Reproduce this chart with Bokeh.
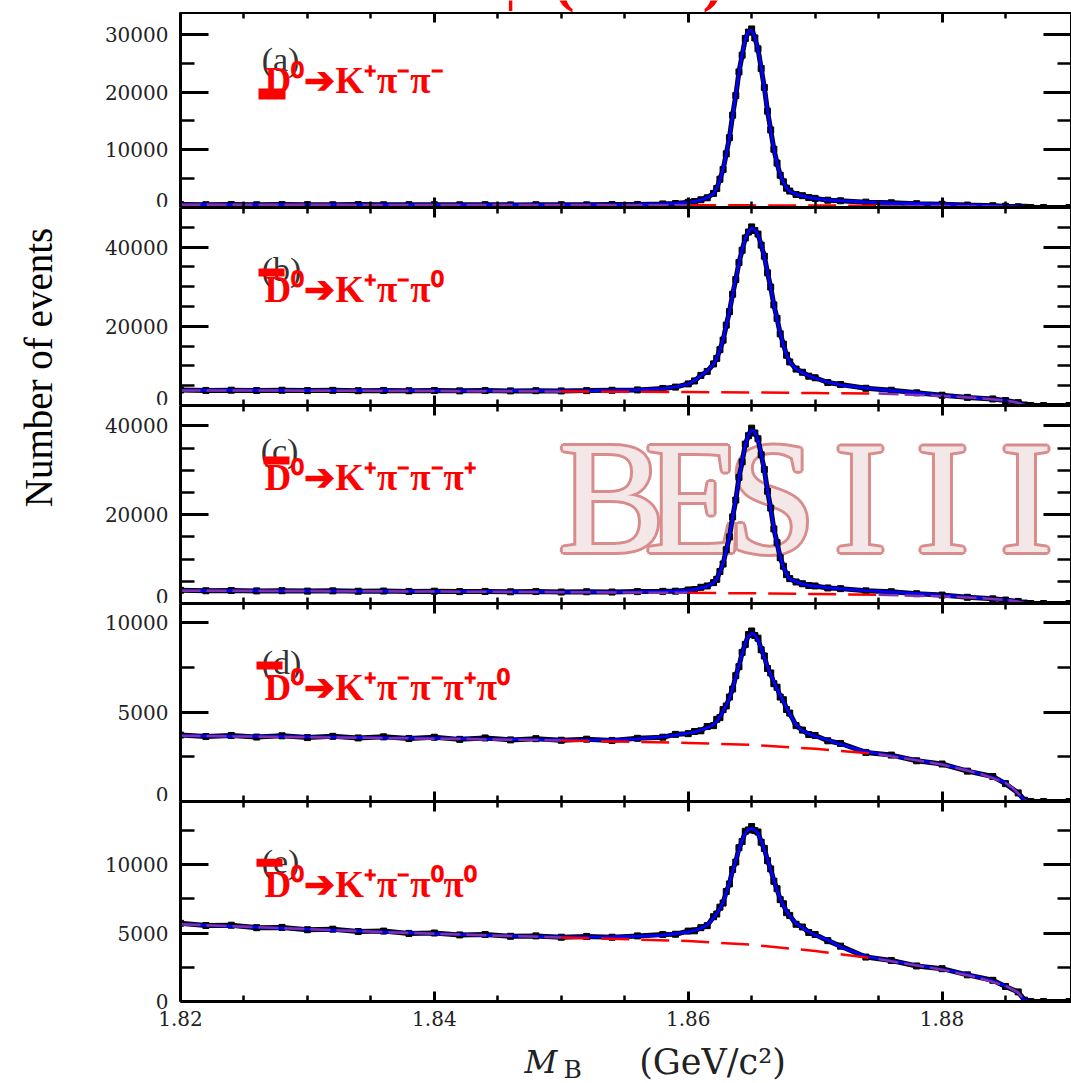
import math
import numpy as np
from bokeh.plotting import figure
from bokeh.layouts import row, column
from bokeh.models import (Range1d, LinearAxis, FixedTicker, NumeralTickFormatter,
                          CustomJSTickFormatter, Label, BoxAnnotation, ColumnDataSource)
from bokeh.embed import file_html
from bokeh.resources import INLINE
from bokeh.core.properties import value

# ---------------- data ----------------
mass = [1.820, 1.822, 1.824, 1.826, 1.828, 1.830, 1.832, 1.834, 1.836, 1.838,
        1.840, 1.842, 1.844, 1.846, 1.848, 1.850, 1.852, 1.854, 1.856,
        1.858, 1.859, 1.860, 1.8605, 1.861, 1.8615,
        1.862, 1.86225, 1.8625, 1.86275, 1.863, 1.86325, 1.8635, 1.86375, 1.864,
        1.86425, 1.8645, 1.86475, 1.865, 1.86525, 1.8655, 1.86575, 1.866, 1.86625,
        1.8665, 1.86675, 1.867, 1.86725, 1.8675, 1.86775, 1.868,
        1.8685, 1.869, 1.8695, 1.870, 1.871, 1.872,
        1.874, 1.876, 1.878, 1.880, 1.882, 1.884, 1.885, 1.886, 1.8865, 1.887, 1.888, 1.890]

mass_bkg = [1.820, 1.830, 1.840, 1.850, 1.860, 1.865, 1.870, 1.875, 1.880, 1.883,
            1.885, 1.8855, 1.886, 1.8866, 1.890]

fit_a = [500, 500, 495, 495, 490, 490, 485, 485, 480, 480, 475, 475, 470, 470, 470, 470, 475, 490, 520,
         600, 700, 880, 1050, 1300, 1700,
         2400, 3370, 4780, 6680, 9180, 12260, 15800, 19610, 23330, 26620, 29130, 30560, 30700, 29600,
         27350, 24260, 20620, 16860, 13310, 10190, 7610, 5700, 4400, 3400, 2800,
         2300, 2000, 1750, 1550, 1300, 1150,
         950, 800, 680, 550, 430, 300, 220, 120, 30, 0, 0, 0]
data_a = [520, 480, 510, 470, 500, 495, 470, 500, 465, 490, 480, 460, 490, 455, 480, 475, 460, 510, 530,
          620, 690, 900, 1030, 1340, 1680,
          2450, 3300, 4900, 6600, 9300, 12100, 16000, 19400, 23500, 26400, 29300, 30400, 30950, 29400,
          27500, 24100, 20800, 16700, 13450, 10100, 7700, 5600, 4450, 3350, 2850,
          2250, 2050, 1720, 1580, 1270, 1170,
          930, 820, 660, 560, 420, 310, 210, 130, 40, 0, 0, 0]
bkg_a = [480, 460, 440, 420, 390, 370, 340, 300, 240, 180, 120, 90, 60, 0, 0]

fit_b = [3850, 3840, 3830, 3820, 3810, 3800, 3790, 3780, 3770, 3760, 3750, 3740, 3730, 3720, 3715, 3720, 3750, 3820, 3950,
         4250, 4700, 5400, 6300, 7500, 8700,
         10400, 12000, 13900, 16700, 20060, 23850, 27890, 32020, 35890, 39350, 42070, 43970, 44800, 44430,
         43040, 40690, 37480, 33730, 29690, 25610, 21800, 18310, 15320, 12830, 10840,
         9300, 8300, 7500, 6900, 5900, 5200,
         4400, 3800, 3250, 2550, 2100, 1600, 1300, 700, 150, 0, 0, 0]
data_b = [3900, 3800, 3870, 3790, 3850, 3760, 3820, 3740, 3800, 3730, 3790, 3700, 3770, 3690, 3740, 3680, 3760, 3850, 3930,
          4300, 4650, 5450, 6200, 7600, 8600,
          10500, 11900, 14100, 16500, 20300, 23700, 28100, 31800, 36100, 39200, 42300, 43800, 45100, 44200,
          43300, 40500, 37700, 33500, 29900, 25400, 22000, 18100, 15500, 12700, 11000,
          9200, 8400, 7400, 7000, 5800, 5300,
          4350, 3850, 3200, 2600, 2050, 1650, 1250, 720, 130, 0, 0, 0]
bkg_b = [3800, 3750, 3650, 3550, 3400, 3300, 3150, 3000, 2400, 1850, 1250, 1000, 650, 0, 0]

fit_c = [2920, 2900, 2880, 2860, 2840, 2820, 2800, 2780, 2760, 2740, 2720, 2700, 2680, 2660, 2640, 2610, 2600, 2610, 2640,
         2700, 2800, 3000, 3200, 3500, 3900,
         4600, 5560, 7060, 9100, 11850, 15220, 19220, 23590, 28030, 32210, 35600, 38030, 39060, 38620,
         36810, 33780, 29910, 25590, 21200, 17070, 13490, 10530, 8280, 6610, 5500,
         4900, 4400, 4100, 3900, 3550, 3300,
         2900, 2600, 2250, 1850, 1450, 1000, 820, 440, 90, 0, 0, 0]
data_c = [2980, 2870, 2930, 2840, 2880, 2790, 2850, 2760, 2810, 2720, 2770, 2680, 2720, 2640, 2690, 2580, 2650, 2580, 2680,
          2740, 2780, 3050, 3150, 3650, 3950,
          4700, 5450, 7200, 8900, 12100, 15000, 19500, 23300, 28400, 31900, 35900, 37800, 39500, 38400,
          37100, 33500, 30200, 25300, 21500, 16800, 13700, 10300, 8400, 6500, 5600,
          4850, 4450, 4050, 3950, 3500, 3350,
          2850, 2650, 2200, 1900, 1400, 1050, 780, 470, 100, 0, 0, 0]
bkg_c = [2900, 2800, 2700, 2550, 2400, 2300, 2150, 1950, 1600, 1200, 800, 620, 420, 0, 0]

fit_d = [3680, 3670, 3660, 3650, 3640, 3620, 3610, 3590, 3570, 3560, 3540, 3520, 3500, 3490, 3470, 3460, 3450, 3460, 3500,
         3620, 3720, 3830, 3880, 4000, 4130,
         4300, 4500, 4750, 5050, 5400, 5750, 6350, 6950, 7620, 8250, 8850, 9250, 9420, 9350,
         9050, 8600, 8050, 7550, 7100, 6700, 6300, 5950, 5600, 5250, 4900,
         4300, 3950, 3800, 3650, 3450, 3200,
         2800, 2560, 2320, 2070, 1750, 1350, 1050, 450, 50, 0, 0, 0]
data_d = [3720, 3640, 3700, 3610, 3680, 3580, 3650, 3560, 3620, 3530, 3600, 3480, 3560, 3450, 3520, 3430, 3490, 3420, 3540,
          3600, 3760, 3800, 3920, 3960, 4200,
          4250, 4600, 4700, 5150, 5350, 5850, 6300, 7050, 7550, 8350, 8800, 9350, 9550, 9300,
          9150, 8500, 8150, 7450, 7200, 6600, 6400, 5850, 5700, 5150, 4950,
          4250, 4000, 3750, 3700, 3400, 3250,
          2750, 2600, 2280, 2100, 1700, 1400, 1000, 480, 70, 0, 0, 0]
bkg_d = [3680, 3600, 3520, 3420, 3280, 3170, 2950, 2650, 2070, 1550, 1050, 800, 450, 0, 0]

fit_e = [5650, 5580, 5500, 5430, 5360, 5290, 5220, 5150, 5080, 5020, 4960, 4900, 4850, 4800, 4760, 4730, 4720, 4730, 4770,
         4850, 4950, 5080, 5200, 5350, 5600,
         6100, 6450, 6800, 7250, 7950, 8700, 9500, 10300, 11100, 11800, 12300, 12600, 12650, 12550,
         12300, 11750, 11100, 10400, 9600, 8900, 8150, 7550, 7050, 6600, 6250,
         5700, 5400, 5100, 4850, 4500, 4000,
         3300, 2960, 2660, 2350, 2000, 1500, 1150, 650, 80, 0, 0, 0]
data_e = [5720, 5560, 5580, 5400, 5420, 5250, 5290, 5120, 5150, 4980, 5010, 4870, 4900, 4770, 4800, 4700, 4760, 4700, 4800,
          4900, 4920, 5150, 5170, 5400, 5550,
          6200, 6400, 6900, 7200, 8050, 8600, 9650, 10200, 11250, 11700, 12450, 12550, 12800, 12500,
          12400, 11650, 11200, 10300, 9700, 8800, 8250, 7450, 7150, 6500, 6300,
          5650, 5450, 5050, 4900, 4450, 4050,
          3250, 3000, 2600, 2400, 1950, 1550, 1100, 700, 100, 0, 0, 0]
bkg_e = [5650, 5290, 4950, 4680, 4430, 4150, 3700, 3100, 2330, 1700, 1150, 900, 650, 0, 0]

panel_tags = ["(a)", "(b)", "(c)", "(d)", "(e)"]
decay_labels = ["D\u2070\u2794K\u207a\u03c0\u207b\u03c0\u207b",
                "D\u2070\u2794K\u207a\u03c0\u207b\u03c0\u2070",
                "D\u2070\u2794K\u207a\u03c0\u207b\u03c0\u207b\u03c0\u207a",
                "D\u2070\u2794K\u207a\u03c0\u207b\u03c0\u207b\u03c0\u207a\u03c0\u2070",
                "D\u2070\u2794K\u207a\u03c0\u207b\u03c0\u2070\u03c0\u2070"]
fits = [fit_a, fit_b, fit_c, fit_d, fit_e]
datas = [data_a, data_b, data_c, data_d, data_e]
bkgs = [bkg_a, bkg_b, bkg_c, bkg_d, bkg_e]

y_major = [[0, 10000, 20000, 30000], [0, 20000, 40000], [0, 20000, 40000],
           [0, 5000, 10000], [0, 5000, 10000]]
y_minor = [[5000, 15000, 25000],
           [5000, 10000, 15000, 25000, 30000, 35000, 45000],
           [5000, 10000, 15000, 25000, 30000, 35000],
           [2500, 7500], [2500, 7500, 12500]]
x_major = [1.82, 1.84, 1.86, 1.88]
x_minor = [1.825, 1.83, 1.835, 1.845, 1.85, 1.855, 1.865, 1.87, 1.875, 1.885]

watermark_letters = ["B", "E", "S", "I", "I", "I"]
y_title = "Number of events"
top_title_psi = "\u03c8"
top_title_rest = "(3770)"

# ---------------- layout constants ----------------
LABEL_W = 70
MAIN_W = 1001
LEFT_BORDER = 110
FRAME_LEFT_PX = LABEL_W + LEFT_BORDER
X_START, X_END = 1.82, 1.8902
TOP_STRIP = 12
BOTTOM_STRIP = 41
FIG_H = [195, 198, 198, 198, 241]
BOT_B = [0, 0, 0, 0, 41]
FRAME_TOP = [12, 207, 405, 603, 801]
FRAME_BOT = [207, 405, 603, 801, 1000]
Y_MAX = [33800, 50000, 44600, 11090, 14630]
FRAME_W = MAIN_W - LEFT_BORDER


def dx(px):
    return X_START + (px - FRAME_LEFT_PX) / FRAME_W * (X_END - X_START)


def dy(i, py):
    return (FRAME_BOT[i] - py) / (FRAME_BOT[i] - FRAME_TOP[i]) * Y_MAX[i]


TAG_POS = [(280, 59), (281, 269), (279, 450), (281, 662), (280, 861)]
DECAY_MID = [80, 289, 477, 687, 884]
DECAY_X = 264
BARS = [(258, 285, 88, 99), (258, 284, 268, 276), (263, 289, 456, 464),
        (256, 282, 661, 669), (256, 282, 858, 866)]

SERIF = "DejaVu Serif"


def style_axis(ax, tin, tmin):
    ax.axis_line_width = 3
    ax.axis_line_color = "black"
    ax.major_tick_line_width = 3
    ax.minor_tick_line_width = 2.5
    ax.major_tick_line_color = "black"
    ax.minor_tick_line_color = "black"
    ax.major_tick_in = tin
    ax.major_tick_out = 0
    ax.minor_tick_in = tmin
    ax.minor_tick_out = 0


def hide_labels(ax):
    ax.formatter = CustomJSTickFormatter(code="return ''")
    ax.major_label_text_font_size = "1px"
    ax.major_label_standoff = 0


def strip(height):
    # frames of a column are aligned, so this strip shares the panels' x scale
    s = figure(width=MAIN_W, height=height, x_range=Range1d(X_START, X_END),
               y_range=Range1d(0, height),
               x_axis_type=None, y_axis_type=None, toolbar_location=None, output_backend="svg")
    s.min_border = 0
    s.min_border_left = LEFT_BORDER
    s.min_border_right = 0
    s.outline_line_color = None
    return s


figs = []

# top strip with the (cut) red title
top_strip = strip(TOP_STRIP)
top_strip.add_layout(Label(x=dx(510), y=TOP_STRIP + 21, text=top_title_psi, text_align="center",
                           text_baseline="middle", text_font="Liberation Serif",
                           text_font_style="bold", text_font_size="56px", text_color="#ff0000"))
top_strip.add_layout(Label(x=dx(638), y=TOP_STRIP + 23, text=top_title_rest, text_align="center",
                           text_baseline="middle", text_font="Liberation Serif",
                           text_font_style="bold", text_font_size="64px", text_color="#ff0000"))
figs.append(top_strip)

for i in range(5):
    p = figure(width=MAIN_W, height=FIG_H[i],
               x_range=Range1d(X_START, X_END), y_range=Range1d(0, Y_MAX[i]),
               x_axis_type=None, y_axis_type=None,
               toolbar_location=None, output_backend="svg")
    p.min_border = 0
    p.min_border_left = LEFT_BORDER
    p.min_border_right = 0
    p.min_border_top = 0
    p.min_border_bottom = BOT_B[i]
    p.outline_line_color = None
    p.background_fill_color = "white"
    p.border_fill_color = "white"

    yt = FixedTicker(ticks=y_major[i], minor_ticks=y_minor[i])
    xt = FixedTicker(ticks=x_major, minor_ticks=x_minor)

    left = LinearAxis(ticker=yt, formatter=NumeralTickFormatter(format="0"))
    style_axis(left, 28, 14)
    left.major_label_text_font = SERIF
    left.major_label_text_font_size = "20px"
    left.major_label_text_color = "#222222"
    left.major_label_standoff = 12
    p.add_layout(left, "left")

    right = LinearAxis(ticker=FixedTicker(ticks=y_major[i], minor_ticks=y_minor[i]))
    style_axis(right, 28, 14)
    hide_labels(right)
    p.add_layout(right, "right")

    top = LinearAxis(ticker=FixedTicker(ticks=x_major, minor_ticks=x_minor))
    style_axis(top, 10, 6)
    hide_labels(top)
    p.add_layout(top, "above")

    bottom = LinearAxis(ticker=xt, formatter=NumeralTickFormatter(format="0.00"))
    style_axis(bottom, 10, 6)
    if i == 4:
        bottom.major_label_text_font = SERIF
        bottom.major_label_text_font_size = "20px"
        bottom.major_label_text_color = "#222222"
        bottom.major_label_standoff = 9
    else:
        hide_labels(bottom)
    p.add_layout(bottom, "below")

    # watermark in panel (c)
    if i == 2:
        centers = [611, 693, 771, 860, 942, 1026]
        mid = dy(i, 497)
        offs = [(-3, 0), (3, 0), (0, -3), (0, 3), (-2, -2), (2, 2), (-2, 2), (2, -2)]
        xs, ys, tx, xo, yo = [], [], [], [], []
        for (ox, oy) in offs:
            for c, L in zip(centers, watermark_letters):
                xs.append(dx(c)); ys.append(mid); tx.append(L); xo.append(ox); yo.append(oy)
        p.text(x=xs, y=ys, text=tx, x_offset=xo, y_offset=yo,
               text_font=value("Liberation Serif"), text_font_size=value("160px"),
               text_color="#d98c8c", text_align="center", text_baseline="middle")
        p.text(x=[dx(c) for c in centers], y=[mid] * 6, text=watermark_letters,
               text_font=value("Liberation Serif"), text_font_size=value("160px"),
               text_color="#f4e7e7", text_align="center", text_baseline="middle")

    src = ColumnDataSource(dict(x=mass, data=datas[i], fit=fits[i]))
    p.line("x", "data", source=src, line_color="black", line_width=5)
    p.scatter("x", "data", source=src, marker="square", size=6, color="black")
    p.line("x", "fit", source=src, line_color="#0000ff", line_width=3)

    fb = np.array(bkgs[i], dtype=float)
    fit_at = np.interp(mass_bkg, mass, fits[i])
    close = (fit_at - fb) < 0.035 * Y_MAX[i]
    sep = ~close
    red_mask = sep.copy()
    red_mask[1:] |= sep[:-1]
    red_mask[:-1] |= sep[1:]
    red_y = np.where(red_mask, fb, np.nan)
    pur_y = np.where(close, fb, np.nan)
    p.line(mass_bkg, red_y, line_color="#ff0000", line_width=2.5, line_dash="28 12")
    p.line(mass_bkg, pur_y, line_color="#8030b0", line_width=2.5, line_dash="20 6")

    # labels inside the frame
    tx_, ty_ = TAG_POS[i]
    p.add_layout(Label(x=dx(tx_), y=dy(i, ty_), text=panel_tags[i], text_align="center",
                       text_baseline="middle", text_font="Liberation Serif",
                       text_font_size="34px", text_color="#333333"))
    l, r, t, b = BARS[i]
    p.add_layout(BoxAnnotation(left=dx(l), right=dx(r), top=dy(i, t), bottom=dy(i, b),
                               fill_color="#ff0000", fill_alpha=1.0, line_color=None))
    p.add_layout(Label(x=dx(DECAY_X), y=dy(i, DECAY_MID[i]), text=decay_labels[i],
                       text_align="left", text_baseline="middle",
                       text_font="Liberation Serif", text_font_style="bold",
                       text_font_size="37px", text_color="#ff0000"))
    figs.append(p)

# bottom strip with the x-axis title
bot = strip(BOTTOM_STRIP)
page_top = 1083 - BOTTOM_STRIP
bot.add_layout(Label(x=dx(524), y=BOTTOM_STRIP - (1061 - page_top), text="M",
                     text_align="left", text_baseline="middle", text_font=SERIF,
                     text_font_style="italic", text_font_size="32px", text_color="#222222"))
bot.add_layout(Label(x=dx(563), y=BOTTOM_STRIP - (1069 - page_top), text="B",
                     text_align="left", text_baseline="middle", text_font=SERIF,
                     text_font_size="25px", text_color="#222222"))
bot.add_layout(Label(x=dx(712), y=BOTTOM_STRIP - (1061 - page_top), text="(GeV/c\u00b2)",
                     text_align="center", text_baseline="middle", text_font=SERIF,
                     text_font_size="35px", text_color="#222222"))
figs.append(bot)

# y-axis title
lab = figure(width=LABEL_W, height=1083, x_range=Range1d(0, LABEL_W), y_range=Range1d(0, 1083),
             x_axis_type=None, y_axis_type=None, toolbar_location=None, output_backend="svg")
lab.min_border = 0
lab.outline_line_color = None
lab.add_layout(Label(x=38, y=1083 - 367, text=y_title, angle=math.pi / 2,
                     text_align="center", text_baseline="middle",
                     text_font="Liberation Serif", text_font_size="39px", text_color="black"))

layout = row(lab, column(*figs, spacing=0), spacing=0)
open("out.html", "w").write(file_html(layout, INLINE))
